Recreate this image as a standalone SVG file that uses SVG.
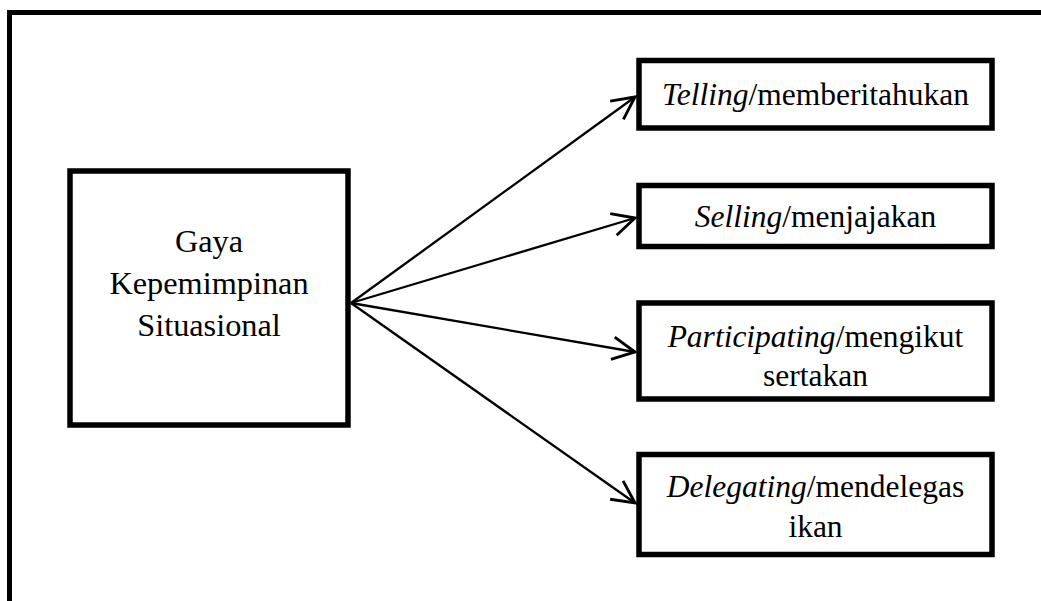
<svg xmlns="http://www.w3.org/2000/svg" width="1041" height="601" viewBox="0 0 1041 601">
<style>
.box{fill:#fff;stroke:#000;stroke-width:5.5}
text{font-family:'Liberation Serif','Times New Roman',serif;font-size:31.5px;fill:#000;text-anchor:middle}
.m{font-size:32.3px}
.i{font-style:italic}
.c{stroke:#000;stroke-width:2.3;fill:none}
</style>
<defs>
<marker id="ah" markerUnits="userSpaceOnUse" markerWidth="30" markerHeight="30" refX="0" refY="0" viewBox="-22 -12 24 24" orient="auto" overflow="visible">
<path d="M-18,-9 L0,0 L-18,9" fill="none" stroke="#000" stroke-width="2.3"/>
</marker>
</defs>
<rect width="1041" height="601" fill="#fff"/>
<path d="M9.5,610 V12.5 H1050" fill="none" stroke="#000" stroke-width="5"/>
<g id="main">
<rect class="box" x="70" y="171" width="278" height="254"/>
<text class="m" x="209" y="252">Gaya</text>
<text class="m" x="209" y="294">Kepemimpinan</text>
<text class="m" x="209" y="336">Situasional</text>
</g>
<g id="telling">
<rect class="box" x="639" y="60.5" width="353" height="67.5"/>
<text x="815.5" y="105"><tspan class="i">Telling</tspan>/memberitahukan</text>
</g>
<g id="selling">
<rect class="box" x="639" y="185.5" width="353" height="61"/>
<text x="815.5" y="227"><tspan class="i">Selling</tspan>/menjajakan</text>
</g>
<g id="participating">
<rect class="box" x="639" y="303" width="353" height="96"/>
<text x="815.5" y="347"><tspan class="i">Participating</tspan>/mengikut</text>
<text x="815.5" y="386">sertakan</text>
</g>
<g id="delegating">
<rect class="box" x="639" y="454.5" width="353" height="100"/>
<text x="815.5" y="497"><tspan class="i">Delegating</tspan>/mendelegas</text>
<text x="815.5" y="537">ikan</text>
</g>
<g id="connectors">
<line class="c" x1="351" y1="303" x2="635" y2="97" marker-end="url(#ah)"/>
<line class="c" x1="351" y1="303" x2="635" y2="218" marker-end="url(#ah)"/>
<line class="c" x1="351" y1="303" x2="635" y2="352" marker-end="url(#ah)"/>
<line class="c" x1="351" y1="303" x2="635" y2="503" marker-end="url(#ah)"/>
</g>
</svg>
